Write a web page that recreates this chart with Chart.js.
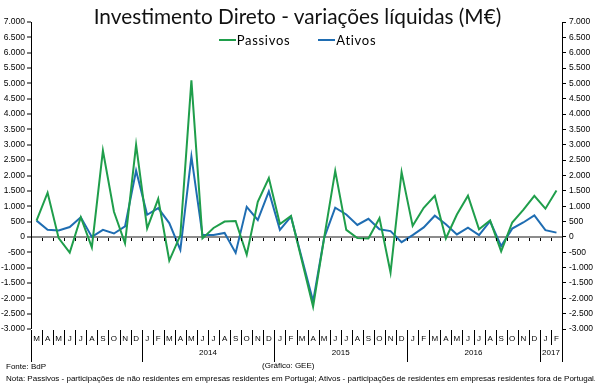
<!DOCTYPE html>
<html>
<head>
<meta charset="utf-8">
<script src="https://cdn.jsdelivr.net/npm/chart.js@4/dist/chart.umd.min.js"></script>
<style>
  html, body { margin: 0; padding: 0; background: #fff; }
  #wrap { position: relative; width: 595px; height: 389px; overflow: hidden; }
  #chart { position: absolute; left: 0; top: 0; }
  .title { position: absolute; left: 0; width: 595px; top: 4px; text-align: center;
           font-family: Lato, sans-serif; font-size: 20.8px; line-height: 24px; color: #111; }
  #legend { position: absolute; left: 0; width: 595px; top: 32px; display: flex; justify-content: center;
            gap: 28px; font-family: Lato, sans-serif; font-size: 13px; line-height: 16px; color: #000; letter-spacing: 0.7px; }
  #legend span.item { display: flex; align-items: center; }
  #legend span.swatch { display: inline-block; width: 17px; height: 2px; margin-right: 1px; }
  .note { position: absolute; font-family: "Liberation Sans", Arial, sans-serif; font-size: 8px; line-height: 10px; color: #000; white-space: nowrap; }
</style>
</head>
<body>
<div id="wrap">
  <canvas id="chart" width="595" height="389"></canvas>
  <div class="title">Investimento Direto - variações líquidas (M€)</div>
  <div id="legend"></div>
  <div class="note" style="left:6px; top:362px;">Fonte: BdP</div>
  <div class="note" style="left:262px; top:361px;">(Gráfico: GEE)</div>
  <div class="note" style="left:6px; top:374px;">Nota: Passivos - participações de não residentes em empresas residentes em Portugal; Ativos - participações de residentes em empresas residentes fora de Portugal.</div>
</div>
<script>
// months from March 2013 to February 2017
const months = ['M','A','M','J','J','A','S','O','N','D',
  'J','F','M','A','M','J','J','A','S','O','N','D',
  'J','F','M','A','M','J','J','A','S','O','N','D',
  'J','F','M','A','M','J','J','A','S','O','N','D',
  'J','F'];
const years = [
  '','','','','','','','','','',
  '2014','2014','2014','2014','2014','2014','2014','2014','2014','2014','2014','2014',
  '2015','2015','2015','2015','2015','2015','2015','2015','2015','2015','2015','2015',
  '2016','2016','2016','2016','2016','2016','2016','2016','2016','2016','2016','2016',
  '2017','2017'];

const passivos = [530, 1440, -40, -510, 640, -340, 2810, 820, -210, 3000,
  280, 1240, -770, 50, 5100, -50, 290, 500, 520, -580, 1140, 1920,
  420, 680, -790, -2270, -30, 2150, 230, -40, -50, 610, -1160, 2110,
  360, 950, 1340, -50, 730, 1340, 250, 540, -470, 470, 880, 1340,
  920, 1510];
const ativos = [530, 230, 210, 320, 640, 0, 230, 110, 340, 2160,
  720, 940, 450, -420, 2620, 60, 60, 130, -520, 980, 550, 1480,
  230, 660, -720, -2100, -30, 950, 730, 390, 590, 250, 190, -170,
  60, 310, 690, 410, 80, 300, 60, 510, -300, 270, 470, 700,
  220, 140];

const yMin = -3000, yMax = 7000, yStep = 500;

const GREEN = '#1f9e4b';
const BLUE = '#1f6db2';

function fmt(v) {
  const s = Math.abs(v).toString().replace(/\B(?=(\d{3})+(?!\d))/g, '.');
  return (v < 0 ? '-' : '') + s;
}

// multi-level month / year axis under the plot, plus the small ticks on the zero line
const categoryAxis = {
  id: 'categoryAxis',
  afterDraw(chart) {
    const ctx = chart.ctx;
    const x = chart.scales.x;
    const y = chart.scales.y;
    const area = chart.chartArea;
    const half = (x.getPixelForValue(1) - x.getPixelForValue(0)) / 2;
    const y0 = Math.round(y.getPixelForValue(0));
    const top = area.bottom + 1;

    ctx.save();
    ctx.strokeStyle = '#000';
    ctx.lineWidth = 1;

    // ticks on the zero line
    ctx.beginPath();
    for (let i = 1; i < months.length; i++) {
      const bx = Math.round(x.getPixelForValue(i) - half) + 0.5;
      ctx.moveTo(bx, y0 + 1);
      ctx.lineTo(bx, y0 + 4);
    }
    ctx.stroke();

    // separators
    ctx.beginPath();
    for (let i = 0; i <= months.length; i++) {
      const bx = Math.round(x.getPixelForValue(i) - half) + 0.5;
      const yearEdge = i === 0 || i === months.length || years[i] !== years[i - 1];
      ctx.moveTo(bx, top);
      ctx.lineTo(bx, yearEdge ? area.bottom + 33 : area.bottom + 16);
    }
    ctx.stroke();

    // month labels
    ctx.fillStyle = '#000';
    ctx.font = '8px "Liberation Sans", Arial, sans-serif';
    ctx.textAlign = 'center';
    ctx.textBaseline = 'middle';
    months.forEach((m, i) => {
      ctx.fillText(m, x.getPixelForValue(i), area.bottom + 10);
    });

    // year labels, centred on each run of months
    let start = 0;
    for (let i = 1; i <= years.length; i++) {
      if (i === years.length || years[i] !== years[start]) {
        if (years[start]) {
          const cx = (x.getPixelForValue(start) + x.getPixelForValue(i - 1)) / 2;
          ctx.fillText(years[start], cx, area.bottom + 24);
        }
        start = i;
      }
    }
    ctx.restore();
  }
};

const chart = new Chart(document.getElementById('chart'), {
  type: 'line',
  data: {
    labels: months.map((m, i) => m + ' ' + years[i]),
    datasets: [
      { label: 'Passivos', data: passivos, borderColor: GREEN, backgroundColor: GREEN,
        borderWidth: 2, pointRadius: 0, tension: 0 },
      { label: 'Ativos', data: ativos, borderColor: BLUE, backgroundColor: BLUE,
        borderWidth: 2, pointRadius: 0, tension: 0 }
    ]
  },
  options: {
    responsive: false,
    animation: false,
    events: [],
    layout: { padding: { top: 22, bottom: 60, left: 0, right: 0 } },
    plugins: { legend: { display: false }, title: { display: false }, tooltip: { enabled: false } },
    scales: {
      x: { type: 'category', display: false, offset: true },
      y: {
        position: 'left', min: yMin, max: yMax,
        afterFit: s => { s.width = 31; },
        ticks: { stepSize: yStep, callback: v => fmt(v), color: '#000', padding: 2,
                 font: { family: 'Liberation Sans', size: 8.5 } },
        grid: {
          drawOnChartArea: true, drawTicks: true, tickLength: 4, tickWidth: 1, tickColor: '#000',
          color: c => (c.tick && c.tick.value === 0) ? '#8c8c8c' : 'rgba(0,0,0,0)',
          lineWidth: c => (c.tick && c.tick.value === 0) ? 2 : 0
        },
        border: { display: true, color: '#000', width: 1 }
      },
      y2: {
        position: 'right', min: yMin, max: yMax,
        afterFit: s => { s.width = 33; },
        ticks: { stepSize: yStep, callback: v => fmt(v), color: '#000', padding: 3,
                 font: { family: 'Liberation Sans', size: 8.5 } },
        grid: { drawOnChartArea: false, drawTicks: true, tickLength: 4, tickColor: '#000' },
        border: { display: true, color: '#000', width: 1 }
      }
    }
  },
  plugins: [categoryAxis]
});

// legend built from the chart's datasets
document.getElementById('legend').innerHTML = chart.data.datasets.map(d =>
  `<span class="item"><span class="swatch" style="background:${d.borderColor}"></span>${d.label}</span>`
).join('');
</script>
</body>
</html>
